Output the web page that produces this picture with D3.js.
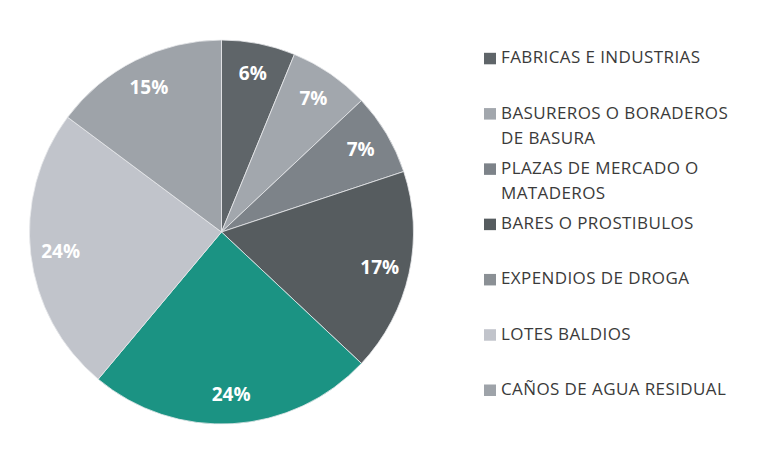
<!DOCTYPE html>
<html>
<head>
<meta charset="utf-8">
<script src="https://cdn.jsdelivr.net/npm/d3@7"></script>
<style>
  body{margin:0;background:#fff;}
  svg{display:block;}
</style>
</head>
<body>
<script>
// data (clockwise from 12 o'clock)
const categories=["FABRICAS E INDUSTRIAS","BASUREROS O BORADEROS DE BASURA","PLAZAS DE MERCADO O MATADEROS","BARES O PROSTIBULOS","EXPENDIOS DE DROGA","LOTES BALDIOS","CAÑOS DE AGUA RESIDUAL"]
const values=[6.2,6.8,6.9,17.1,24.1,24.1,14.8]
const labels=["6%","7%","7%","17%","24%","24%","15%"]
const sliceColors=["#5f6569","#a2a7ad","#7d8389","#565c5f","#1b9383","#c1c4cb","#9ea3a9"]
const legendColors=["#5f6569","#a2a7ad","#7d8389","#565c5f","#8b9095","#c1c4cb","#9ea3a9"]

const w=765, h=455
const cx=221.5, cy=232, r=192

const svg=d3.select("body").append("svg").attr("width",w).attr("height",h)

const data=categories.map((c,i)=>({cat:c,value:values[i],label:labels[i],color:sliceColors[i]}))

const pie=d3.pie().value(d=>d.value).sort(null)
const arc=d3.arc().innerRadius(0).outerRadius(r)
const labelArc=d3.arc().innerRadius(162).outerRadius(162)

const g=svg.append("g").attr("transform","translate("+cx+","+cy+")")

g.selectAll("path")
  .data(pie(data))
  .enter()
  .append("path")
  .attr("d",arc)
  .attr("fill",d=>d.data.color)
  .attr("stroke","#e8eaec")
  .attr("stroke-width",0.8)

g.selectAll("text")
  .data(pie(data))
  .enter()
  .append("text")
  .attr("transform",d=>"translate("+labelArc.centroid(d)+")")
  .attr("text-anchor","middle")
  .attr("dy","0.36em")
  .style("font-family","'Open Sans', sans-serif")
  .style("font-weight","bold")
  .style("font-size","19px")
  .attr("fill","#fff")
  .text(d=>d.data.label)

// legend
const yLegend=d3.scalePoint().domain(categories).range([63.3,395])
const legend=svg.append("g")

const items=legend.selectAll("g")
  .data(data)
  .enter()
  .append("g")
  .attr("transform",d=>"translate(0,"+yLegend(d.cat)+")")

items.append("rect")
  .attr("x",484).attr("y",-10.5)
  .attr("width",12).attr("height",11.5)
  .attr("fill",(d,i)=>legendColors[i])

items.append("text")
  .attr("x",501)
  .style("font-family","'Open Sans', sans-serif")
  .style("font-size","17px")
  .style("letter-spacing","0.4px")
  .attr("fill","#3a3a3a")
  .each(function(d){
    const t=d3.select(this)
    const words=d.cat.split(" ")
    let line=[], n=0
    let ts=t.append("tspan").attr("x",501).attr("y",0)
    words.forEach(word=>{
      line.push(word)
      ts.text(line.join(" "))
      if(ts.node().getComputedTextLength()>240 && line.length>1){
        line.pop()
        ts.text(line.join(" "))
        line=[word]
        n++
        ts=t.append("tspan").attr("x",501).attr("y",n*25).text(word)
      }
    })
  })
</script>
</body>
</html>
